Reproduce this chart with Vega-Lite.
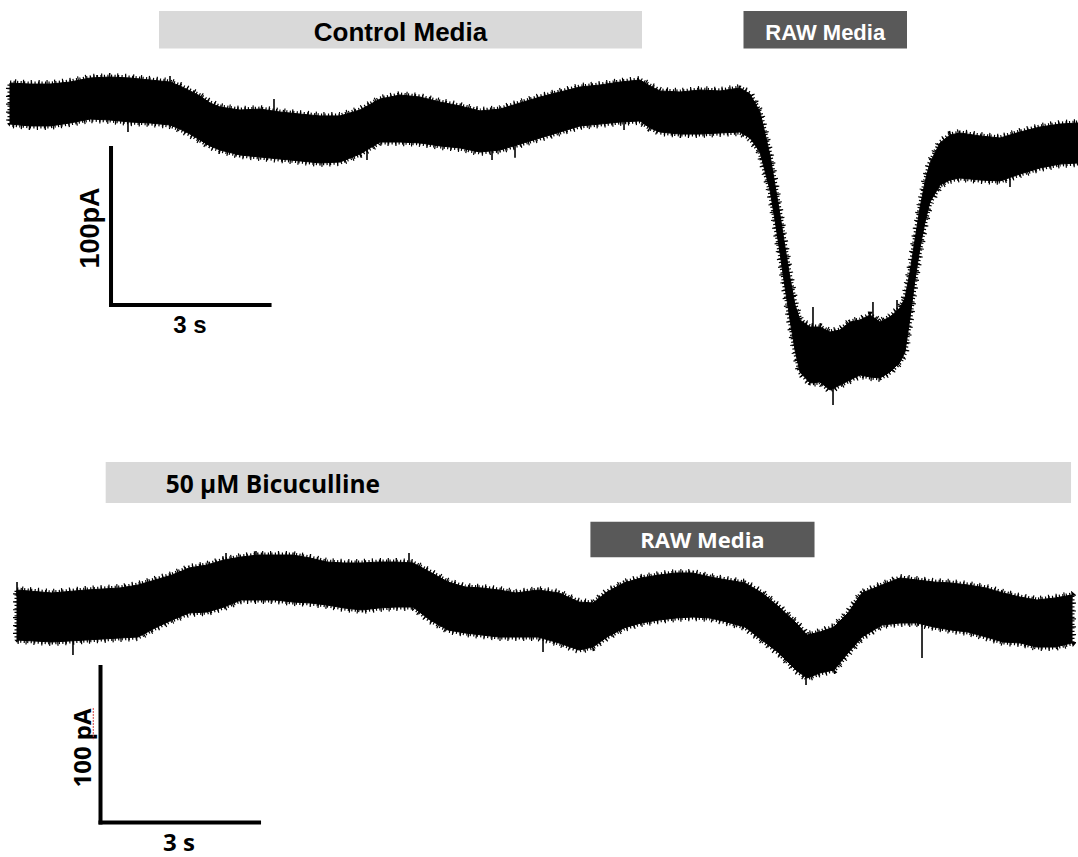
{
"$schema": "https://vega.github.io/schema/vega-lite/v6.json",
"background": "white",
"padding": 0,
"spacing": 0,
"config": {"view": {"stroke": null}},
"datasets": {
"top_trace": [
{"t":0.189,"hi":-53.1,"lo":-79.4},{"t":0.568,"hi":-53.8,"lo":-80.6},{"t":0.946,"hi":-53.8,"lo":-80.6},{"t":1.325,"hi":-52.5,"lo":-78.7},{"t":1.703,"hi":-49.9,"lo":-76.2},{"t":2.082,"hi":-49.3,"lo":-76.8},{"t":2.460,"hi":-49.9,"lo":-78.1},{"t":2.839,"hi":-51.2,"lo":-78.7},{"t":3.217,"hi":-52.5,"lo":-80.0},{"t":3.406,"hi":-55.0,"lo":-82.6},{"t":3.596,"hi":-58.2,"lo":-85.8},{"t":3.785,"hi":-61.4,"lo":-89.6},{"t":3.974,"hi":-65.9,"lo":-93.4},{"t":4.163,"hi":-68.5,"lo":-96.0},{"t":4.542,"hi":-70.4,"lo":-99.2},{"t":4.920,"hi":-69.8,"lo":-100.5},{"t":5.299,"hi":-71.7,"lo":-101.8},{"t":5.677,"hi":-73.0,"lo":-103.0},{"t":6.056,"hi":-74.2,"lo":-104.3},{"t":6.434,"hi":-74.2,"lo":-103.7},{"t":6.813,"hi":-70.4,"lo":-98.6},{"t":7.191,"hi":-63.4,"lo":-90.9},{"t":7.570,"hi":-60.8,"lo":-90.9},{"t":7.948,"hi":-62.1,"lo":-91.5},{"t":8.327,"hi":-65.3,"lo":-93.4},{"t":8.705,"hi":-67.8,"lo":-94.7},{"t":9.084,"hi":-71.0,"lo":-97.3},{"t":9.462,"hi":-69.8,"lo":-96.0},{"t":9.840,"hi":-65.9,"lo":-92.2},{"t":10.219,"hi":-62.1,"lo":-88.3},{"t":10.597,"hi":-58.9,"lo":-84.5},{"t":10.976,"hi":-55.7,"lo":-80.6},{"t":11.354,"hi":-54.4,"lo":-79.4},{"t":11.733,"hi":-52.5,"lo":-78.1},{"t":12.111,"hi":-51.2,"lo":-77.4},{"t":12.301,"hi":-55.0,"lo":-81.9},{"t":12.490,"hi":-58.2,"lo":-84.5},{"t":12.868,"hi":-58.9,"lo":-85.8},{"t":13.247,"hi":-57.6,"lo":-85.8},{"t":13.625,"hi":-58.2,"lo":-85.1},{"t":14.004,"hi":-56.3,"lo":-84.5},{"t":14.193,"hi":-60.2,"lo":-88.3},{"t":14.382,"hi":-71.7,"lo":-97.3},{"t":14.571,"hi":-99.2,"lo":-121.6},{"t":14.666,"hi":-118.4,"lo":-140.8},{"t":14.761,"hi":-137.6,"lo":-161.9},{"t":14.855,"hi":-158.1,"lo":-183.7},{"t":14.950,"hi":-177.9,"lo":-204.8},{"t":15.045,"hi":-195.2,"lo":-224.0},{"t":15.139,"hi":-204.8,"lo":-238.1},{"t":15.329,"hi":-209.3,"lo":-245.1},{"t":15.518,"hi":-209.3,"lo":-244.5},{"t":15.707,"hi":-212.5,"lo":-249.6},{"t":15.896,"hi":-211.2,"lo":-246.4},{"t":16.085,"hi":-206.1,"lo":-243.2},{"t":16.275,"hi":-204.8,"lo":-240.0},{"t":16.464,"hi":-201.6,"lo":-241.3},{"t":16.653,"hi":-206.1,"lo":-241.9},{"t":16.842,"hi":-202.9,"lo":-238.1},{"t":17.032,"hi":-197.1,"lo":-231.7},{"t":17.126,"hi":-190.7,"lo":-225.3},{"t":17.221,"hi":-174.1,"lo":-203.5},{"t":17.315,"hi":-153.6,"lo":-179.2},{"t":17.410,"hi":-133.1,"lo":-158.7},{"t":17.505,"hi":-116.5,"lo":-142.1},{"t":17.599,"hi":-104.3,"lo":-129.3},{"t":17.788,"hi":-91.5,"lo":-118.4},{"t":17.978,"hi":-86.4,"lo":-115.2},{"t":18.167,"hi":-85.1,"lo":-113.9},{"t":18.545,"hi":-87.0,"lo":-115.2},{"t":18.924,"hi":-88.3,"lo":-115.8},{"t":19.302,"hi":-84.5,"lo":-111.4},{"t":19.681,"hi":-81.3,"lo":-107.5},{"t":20.059,"hi":-79.4,"lo":-105.0},{"t":20.400,"hi":-78.7,"lo":-104.3}
],
"top_spikes": [
{"t":1.836,"v1":-55,"v2":-48.0},{"t":2.422,"v1":-78,"v2":-84.5},{"t":3.217,"v1":-55,"v2":-48.6},{"t":5.185,"v1":-72,"v2":-63.4},{"t":6.945,"v1":-96,"v2":-102.4},{"t":9.311,"v1":-96,"v2":-102.4},{"t":9.746,"v1":-92,"v2":-101.0},{"t":11.809,"v1":-77,"v2":-83.2},{"t":15.385,"v1":-210,"v2":-196.5},{"t":15.764,"v1":-246,"v2":-259.2},{"t":16.520,"v1":-203,"v2":-193.3},{"t":16.975,"v1":-200,"v2":-192.0},{"t":19.113,"v1":-114,"v2":-119.7}
],
"top_bars": [
{"label":"Control Media","kind":"control","start":3.009,"end":12.149},
{"label":"RAW Media","kind":"raw","start":14.070,"end":17.164}
],
"bottom_trace": [
{"t":0.322,"hi":-96.0,"lo":-128.0},{"t":0.984,"hi":-97.9,"lo":-129.3},{"t":1.627,"hi":-96.0,"lo":-128.0},{"t":2.271,"hi":-94.7,"lo":-126.7},{"t":2.612,"hi":-92.8,"lo":-126.1},{"t":2.933,"hi":-89.6,"lo":-120.3},{"t":3.255,"hi":-86.4,"lo":-115.2},{"t":3.577,"hi":-81.9,"lo":-110.7},{"t":3.917,"hi":-80.0,"lo":-110.1},{"t":4.239,"hi":-76.8,"lo":-106.9},{"t":4.561,"hi":-74.9,"lo":-102.4},{"t":4.882,"hi":-73.6,"lo":-102.4},{"t":5.204,"hi":-73.6,"lo":-102.4},{"t":5.545,"hi":-73.6,"lo":-103.7},{"t":5.866,"hi":-75.5,"lo":-104.3},{"t":6.188,"hi":-78.1,"lo":-105.6},{"t":6.510,"hi":-78.7,"lo":-107.5},{"t":6.851,"hi":-78.7,"lo":-108.8},{"t":7.172,"hi":-78.1,"lo":-107.5},{"t":7.494,"hi":-78.1,"lo":-106.9},{"t":7.816,"hi":-78.7,"lo":-106.9},{"t":8.137,"hi":-84.5,"lo":-115.2},{"t":8.478,"hi":-90.9,"lo":-121.6},{"t":8.800,"hi":-94.1,"lo":-123.5},{"t":9.121,"hi":-94.7,"lo":-124.8},{"t":9.443,"hi":-96.0,"lo":-126.1},{"t":9.765,"hi":-97.9,"lo":-126.1},{"t":10.181,"hi":-96.0,"lo":-126.1},{"t":10.579,"hi":-97.9,"lo":-129.9},{"t":10.957,"hi":-103.7,"lo":-134.4},{"t":11.222,"hi":-104.3,"lo":-132.5},{"t":11.487,"hi":-97.3,"lo":-126.1},{"t":11.809,"hi":-91.5,"lo":-120.3},{"t":12.130,"hi":-88.3,"lo":-117.1},{"t":12.471,"hi":-86.4,"lo":-115.2},{"t":12.793,"hi":-85.1,"lo":-113.9},{"t":13.114,"hi":-85.1,"lo":-113.3},{"t":13.436,"hi":-87.7,"lo":-113.9},{"t":13.758,"hi":-89.6,"lo":-116.5},{"t":14.098,"hi":-91.5,"lo":-119.7},{"t":14.420,"hi":-97.9,"lo":-128.0},{"t":14.742,"hi":-106.9,"lo":-136.3},{"t":15.064,"hi":-117.1,"lo":-147.2},{"t":15.272,"hi":-124.8,"lo":-152.3},{"t":15.518,"hi":-122.9,"lo":-149.1},{"t":15.783,"hi":-119.7,"lo":-147.2},{"t":16.048,"hi":-110.7,"lo":-136.3},{"t":16.312,"hi":-97.9,"lo":-126.1},{"t":16.691,"hi":-92.8,"lo":-118.4},{"t":17.032,"hi":-88.3,"lo":-117.1},{"t":17.353,"hi":-89.6,"lo":-117.1},{"t":17.675,"hi":-90.9,"lo":-119.7},{"t":17.997,"hi":-91.5,"lo":-121.6},{"t":18.318,"hi":-92.8,"lo":-122.9},{"t":18.659,"hi":-94.7,"lo":-126.1},{"t":18.981,"hi":-97.9,"lo":-129.3},{"t":19.302,"hi":-100.5,"lo":-129.9},{"t":19.624,"hi":-102.4,"lo":-132.5},{"t":19.965,"hi":-101.1,"lo":-132.5},{"t":20.287,"hi":-99.2,"lo":-129.9}
],
"bottom_spikes": [
{"t":0.322,"v1":-100,"v2":-90.9},{"t":1.381,"v1":-127,"v2":-137.6},{"t":4.277,"v1":-78,"v2":-72.3},{"t":4.844,"v1":-76,"v2":-71.0},{"t":7.740,"v1":-80,"v2":-72.3},{"t":10.276,"v1":-126,"v2":-135.7},{"t":15.253,"v1":-151,"v2":-156.8},{"t":17.448,"v1":-116,"v2":-139.5}
],
"bottom_bars": [
{"label":"50 µM Bicuculline","kind":"drug","start":2.000,"end":20.268},
{"label":"RAW Media","kind":"raw","start":11.173,"end":15.414}
],
"scalebars": [{"amplitude":"100 pA","duration":"3 s"}]
},
"vconcat": [
{
"width": 1078,
"height": 440,
"layer": [
{"data":{"name":"top_bars"},"transform":[{"filter":"datum.kind === 'control'"}],
 "mark":{"type":"rect","color":"#d9d9d9"},
 "encoding":{
  "x":{"field":"start","type":"quantitative","scale":{"domain":[0,20.4],"nice":false,"zero":false},"axis":null},
  "x2":{"field":"end"},
  "y":{"datum":-7.04,"type":"quantitative","scale":{"domain":[-281.6,0],"nice":false,"zero":false},"axis":null},
  "y2":{"datum":-31.04}}},
{"data":{"name":"top_bars"},"transform":[{"filter":"datum.kind === 'raw'"}],
 "mark":{"type":"rect","color":"#595959"},
 "encoding":{
  "x":{"field":"start","type":"quantitative","scale":{"domain":[0,20.4],"nice":false,"zero":false},"axis":null},
  "x2":{"field":"end"},
  "y":{"datum":-7.04,"type":"quantitative","scale":{"domain":[-281.6,0],"nice":false,"zero":false},"axis":null},
  "y2":{"datum":-31.04}}},
{"data":{"name":"top_bars"},"transform":[{"filter":"datum.kind === 'control'"},{"calculate":"(datum.start + datum.end) / 2","as":"mid"}],
 "mark":{"type":"text","color":"black","font":"Liberation Sans","fontWeight":"bold","fontSize":26,"align":"center","baseline":"alphabetic"},
 "encoding":{
  "x":{"field":"mid","type":"quantitative","scale":{"domain":[0,20.4],"nice":false,"zero":false},"axis":null},
  "y":{"datum":-26.0,"type":"quantitative","scale":{"domain":[-281.6,0],"nice":false,"zero":false},"axis":null},
  "text":{"field":"label"}}},
{"data":{"name":"top_bars"},"transform":[{"filter":"datum.kind === 'raw'"},{"calculate":"(datum.start + datum.end) / 2","as":"mid"}],
 "mark":{"type":"text","color":"white","font":"Liberation Sans","fontWeight":"bold","fontSize":22,"align":"center","baseline":"alphabetic"},
 "encoding":{
  "x":{"field":"mid","type":"quantitative","scale":{"domain":[0,20.4],"nice":false,"zero":false},"axis":null},
  "y":{"datum":-25.6,"type":"quantitative","scale":{"domain":[-281.6,0],"nice":false,"zero":false},"axis":null},
  "text":{"field":"label"}}},
{"data":{"name":"top_trace"},
 "mark":{"type":"area","color":"black","opacity":1,"stroke":"black","strokeWidth":1,"clip":true},
 "encoding":{
  "x":{"field":"t","type":"quantitative","scale":{"domain":[0,20.4],"nice":false,"zero":false},"axis":null},
  "y":{"field":"hi","type":"quantitative","scale":{"domain":[-281.6,0],"nice":false,"zero":false},"axis":null},
  "y2":{"field":"lo"}}},
{"data":{"name":"top_trace"},
 "mark":{"type":"area","fillOpacity":0,"stroke":"black","strokeWidth":5,"strokeDash":[1.2,2.3],"strokeJoin":"bevel","clip":true},
 "encoding":{
  "x":{"field":"t","type":"quantitative","scale":{"domain":[0,20.4],"nice":false,"zero":false},"axis":null},
  "y":{"field":"hi","type":"quantitative","scale":{"domain":[-281.6,0],"nice":false,"zero":false},"axis":null},
  "y2":{"field":"lo"}}},
{"data":{"name":"top_trace"},
 "mark":{"type":"area","fillOpacity":0,"stroke":"black","strokeWidth":8,"strokeDash":[1.2,6.7],"strokeDashOffset":3,"strokeJoin":"bevel","clip":true},
 "encoding":{
  "x":{"field":"t","type":"quantitative","scale":{"domain":[0,20.4],"nice":false,"zero":false},"axis":null},
  "y":{"field":"hi","type":"quantitative","scale":{"domain":[-281.6,0],"nice":false,"zero":false},"axis":null},
  "y2":{"field":"lo"}}},
{"data":{"name":"top_spikes"},
 "mark":{"type":"rule","color":"black","strokeWidth":1.6},
 "encoding":{
  "x":{"field":"t","type":"quantitative","scale":{"domain":[0,20.4],"nice":false,"zero":false},"axis":null},
  "y":{"field":"v1","type":"quantitative","scale":{"domain":[-281.6,0],"nice":false,"zero":false},"axis":null},
  "y2":{"field":"v2"}}},
{"data":{"name":"scalebars"},
 "mark":{"type":"rule","color":"black","strokeWidth":4,"strokeCap":"square"},
 "encoding":{
  "x":{"datum":2.101,"type":"quantitative","scale":{"domain":[0,20.4],"nice":false,"zero":false},"axis":null},
  "y":{"datum":-94.7,"type":"quantitative","scale":{"domain":[-281.6,0],"nice":false,"zero":false},"axis":null},
  "y2":{"datum":-195.2}}},
{"data":{"name":"scalebars"},
 "mark":{"type":"rule","color":"black","strokeWidth":4,"strokeCap":"square"},
 "encoding":{
  "x":{"datum":2.101,"type":"quantitative","scale":{"domain":[0,20.4],"nice":false,"zero":false},"axis":null},
  "x2":{"datum":5.101},
  "y":{"datum":-195.2,"type":"quantitative","scale":{"domain":[-281.6,0],"nice":false,"zero":false},"axis":null}}},
{"data":{"name":"scalebars"},
 "mark":{"type":"text","color":"black","font":"Liberation Sans","fontWeight":"bold","fontSize":27,"angle":270,"align":"center","baseline":"middle"},
 "encoding":{
  "x":{"datum":1.722,"type":"quantitative","scale":{"domain":[0,20.4],"nice":false,"zero":false},"axis":null},
  "y":{"datum":-145.9,"type":"quantitative","scale":{"domain":[-281.6,0],"nice":false,"zero":false},"axis":null},
  "text":{"value":"100pA"}}},
{"data":{"name":"scalebars"},
 "mark":{"type":"text","color":"black","font":"Liberation Sans","fontWeight":"bold","fontSize":24,"align":"center","baseline":"alphabetic"},
 "encoding":{
  "x":{"datum":3.596,"type":"quantitative","scale":{"domain":[0,20.4],"nice":false,"zero":false},"axis":null},
  "y":{"datum":-213.1,"type":"quantitative","scale":{"domain":[-281.6,0],"nice":false,"zero":false},"axis":null},
  "text":{"field":"duration"}}}
]
},
{
"width": 1078,
"height": 417,
"layer": [
{"data":{"name":"bottom_bars"},"transform":[{"filter":"datum.kind === 'drug'"}],
 "mark":{"type":"rect","color":"#d9d9d9"},
 "encoding":{
  "x":{"field":"start","type":"quantitative","scale":{"domain":[0,20.4],"nice":false,"zero":false},"axis":null},
  "x2":{"field":"end"},
  "y":{"datum":-14.1,"type":"quantitative","scale":{"domain":[-266.88,0],"nice":false,"zero":false},"axis":null},
  "y2":{"datum":-40.3}}},
{"data":{"name":"bottom_bars"},"transform":[{"filter":"datum.kind === 'raw'"}],
 "mark":{"type":"rect","color":"#595959"},
 "encoding":{
  "x":{"field":"start","type":"quantitative","scale":{"domain":[0,20.4],"nice":false,"zero":false},"axis":null},
  "x2":{"field":"end"},
  "y":{"datum":-52.3,"type":"quantitative","scale":{"domain":[-266.88,0],"nice":false,"zero":false},"axis":null},
  "y2":{"datum":-75.1}}},
{"data":{"name":"bottom_bars"},"transform":[{"filter":"datum.kind === 'drug'"}],
 "mark":{"type":"text","color":"black","font":"Open Sans","fontWeight":"bold","fontSize":24.5,"align":"left","baseline":"alphabetic","dx":60},
 "encoding":{
  "x":{"field":"start","type":"quantitative","scale":{"domain":[0,20.4],"nice":false,"zero":false},"axis":null},
  "y":{"datum":-34.1,"type":"quantitative","scale":{"domain":[-266.88,0],"nice":false,"zero":false},"axis":null},
  "text":{"field":"label"}}},
{"data":{"name":"bottom_bars"},"transform":[{"filter":"datum.kind === 'raw'"},{"calculate":"(datum.start + datum.end) / 2","as":"mid"}],
 "mark":{"type":"text","color":"white","font":"Open Sans","fontWeight":"bold","fontSize":22,"align":"center","baseline":"alphabetic"},
 "encoding":{
  "x":{"field":"mid","type":"quantitative","scale":{"domain":[0,20.4],"nice":false,"zero":false},"axis":null},
  "y":{"datum":-69.3,"type":"quantitative","scale":{"domain":[-266.88,0],"nice":false,"zero":false},"axis":null},
  "text":{"field":"label"}}},
{"data":{"name":"bottom_trace"},
 "mark":{"type":"area","color":"black","opacity":1,"stroke":"black","strokeWidth":1,"clip":true},
 "encoding":{
  "x":{"field":"t","type":"quantitative","scale":{"domain":[0,20.4],"nice":false,"zero":false},"axis":null},
  "y":{"field":"hi","type":"quantitative","scale":{"domain":[-266.88,0],"nice":false,"zero":false},"axis":null},
  "y2":{"field":"lo"}}},
{"data":{"name":"bottom_trace"},
 "mark":{"type":"area","fillOpacity":0,"stroke":"black","strokeWidth":5,"strokeDash":[1.2,2.3],"strokeJoin":"bevel","clip":true},
 "encoding":{
  "x":{"field":"t","type":"quantitative","scale":{"domain":[0,20.4],"nice":false,"zero":false},"axis":null},
  "y":{"field":"hi","type":"quantitative","scale":{"domain":[-266.88,0],"nice":false,"zero":false},"axis":null},
  "y2":{"field":"lo"}}},
{"data":{"name":"bottom_trace"},
 "mark":{"type":"area","fillOpacity":0,"stroke":"black","strokeWidth":8,"strokeDash":[1.2,6.7],"strokeDashOffset":3,"strokeJoin":"bevel","clip":true},
 "encoding":{
  "x":{"field":"t","type":"quantitative","scale":{"domain":[0,20.4],"nice":false,"zero":false},"axis":null},
  "y":{"field":"hi","type":"quantitative","scale":{"domain":[-266.88,0],"nice":false,"zero":false},"axis":null},
  "y2":{"field":"lo"}}},
{"data":{"name":"bottom_spikes"},
 "mark":{"type":"rule","color":"black","strokeWidth":1.6},
 "encoding":{
  "x":{"field":"t","type":"quantitative","scale":{"domain":[0,20.4],"nice":false,"zero":false},"axis":null},
  "y":{"field":"v1","type":"quantitative","scale":{"domain":[-266.88,0],"nice":false,"zero":false},"axis":null},
  "y2":{"field":"v2"}}},
{"data":{"name":"scalebars"},
 "mark":{"type":"rule","color":"black","strokeWidth":4,"strokeCap":"square"},
 "encoding":{
  "x":{"datum":1.902,"type":"quantitative","scale":{"domain":[0,20.4],"nice":false,"zero":false},"axis":null},
  "y":{"datum":-145.3,"type":"quantitative","scale":{"domain":[-266.88,0],"nice":false,"zero":false},"axis":null},
  "y2":{"datum":-244.8}}},
{"data":{"name":"scalebars"},
 "mark":{"type":"rule","color":"black","strokeWidth":4,"strokeCap":"square"},
 "encoding":{
  "x":{"datum":1.902,"type":"quantitative","scale":{"domain":[0,20.4],"nice":false,"zero":false},"axis":null},
  "x2":{"datum":4.902},
  "y":{"datum":-244.8,"type":"quantitative","scale":{"domain":[-266.88,0],"nice":false,"zero":false},"axis":null}}},
{"data":{"name":"scalebars"},
 "mark":{"type":"text","color":"black","font":"Open Sans","fontWeight":"bold","fontSize":24,"angle":270,"align":"center","baseline":"middle"},
 "encoding":{
  "x":{"datum":1.590,"type":"quantitative","scale":{"domain":[0,20.4],"nice":false,"zero":false},"axis":null},
  "y":{"datum":-197.1,"type":"quantitative","scale":{"domain":[-266.88,0],"nice":false,"zero":false},"axis":null},
  "text":{"field":"amplitude"}}},
{"data":{"name":"scalebars"},
 "mark":{"type":"rule","color":"#d04040","strokeWidth":1,"strokeDash":[2,1]},
 "encoding":{
  "x":{"datum":1.765,"type":"quantitative","scale":{"domain":[0,20.4],"nice":false,"zero":false},"axis":null},
  "y":{"datum":-171.5,"type":"quantitative","scale":{"domain":[-266.88,0],"nice":false,"zero":false},"axis":null},
  "y2":{"datum":-191.5}}},
{"data":{"name":"scalebars"},
 "mark":{"type":"text","color":"black","font":"Open Sans","fontWeight":"bold","fontSize":24,"align":"center","baseline":"alphabetic"},
 "encoding":{
  "x":{"datum":3.387,"type":"quantitative","scale":{"domain":[0,20.4],"nice":false,"zero":false},"axis":null},
  "y":{"datum":-263.0,"type":"quantitative","scale":{"domain":[-266.88,0],"nice":false,"zero":false},"axis":null},
  "text":{"field":"duration"}}}
]
}
]
}
